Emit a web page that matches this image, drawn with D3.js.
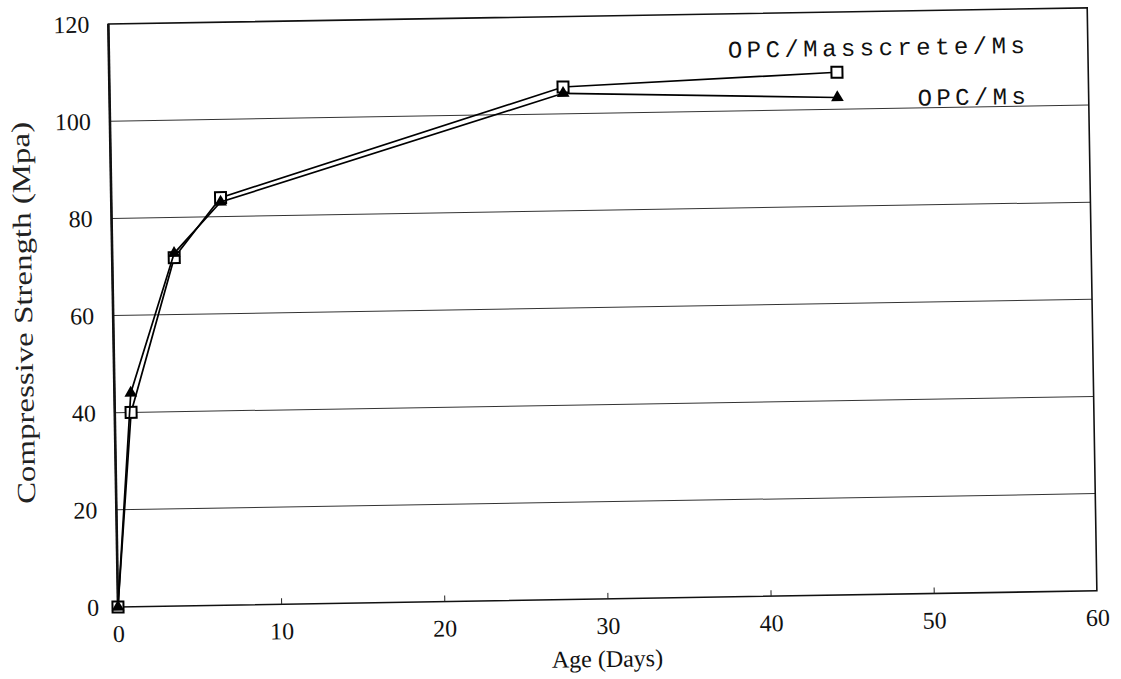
<!DOCTYPE html>
<html>
<head>
<meta charset="utf-8">
<script src="https://cdn.jsdelivr.net/npm/d3@7"></script>
<style>
  html, body { margin: 0; padding: 0; background: #fff; }
  svg { display: block; }
</style>
</head>
<body>
<div id="chart"></div>
<script>
// values
const ages = [0, 1, 3.8, 6.7, 27.8, 44.6];
const masscrete = [0, 40, 71.7, 83.9, 105.5, 107.6];
const opcMs = [0, 44, 72.6, 83, 104.2, 102.4];
const xTicks = [0, 10, 20, 30, 40, 50, 60];
const yTicks = [0, 20, 40, 60, 80, 100, 120];
const gridLines = [20, 40, 60, 80, 100];

const width = 1121, height = 679;
const margin = { top: 24, right: 24, bottom: 72, left: 118 };

const x = d3.scaleLinear().domain([0, 60]).range([margin.left, width - margin.right]);
const y = d3.scaleLinear().domain([0, 120]).range([height - margin.bottom, margin.top]);

const svg = d3.select("#chart").append("svg")
    .attr("width", width)
    .attr("height", height)
    .attr("viewBox", [0, 0, width, height]);

svg.append("rect").attr("width", width).attr("height", height).attr("fill", "#fff");

// the scan is slightly tilted
const g = svg.append("g")
    .attr("transform", `rotate(-0.95, ${x(0)}, ${y(0)})`);

// grid lines
g.append("g")
    .selectAll("line")
    .data(gridLines)
    .join("line")
    .attr("x1", x(0))
    .attr("x2", x(60))
    .attr("y1", d => y(d))
    .attr("y2", d => y(d))
    .attr("stroke", "#333")
    .attr("stroke-width", 1);

// frame
g.append("rect")
    .attr("x", x(0))
    .attr("y", y(120))
    .attr("width", x(60) - x(0))
    .attr("height", y(0) - y(120))
    .attr("fill", "none")
    .attr("stroke", "#111")
    .attr("stroke-width", 1.6);
g.append("line") // heavier left axis
    .attr("x1", x(0)).attr("x2", x(0))
    .attr("y1", y(120)).attr("y2", y(0))
    .attr("stroke", "#111").attr("stroke-width", 2.6);

const xAxis = gg => gg
    .attr("transform", `translate(0, ${y(0)})`)
    .call(d3.axisBottom(x).tickValues(xTicks).tickSize(-6).tickPadding(18))
    .call(gg => gg.select(".domain").remove())
    .call(gg => gg.selectAll(".tick line").attr("stroke", "#222").attr("opacity", d => (d === 0 || d === 60) ? 0 : 1));

const yAxis = gg => gg
    .attr("transform", `translate(${x(0)}, 0)`)
    .call(d3.axisLeft(y).tickValues(yTicks).tickSize(0).tickPadding(19))
    .call(gg => gg.select(".domain").remove());

g.append("g").call(xAxis)
    .attr("font-family", "Liberation Serif, serif")
    .attr("font-size", 24)
    .selectAll("text").attr("fill", "#111");

g.append("g").call(yAxis)
    .attr("font-family", "Liberation Serif, serif")
    .attr("font-size", 24)
    .selectAll("text").attr("fill", "#111");

// axis titles
g.append("text")
    .attr("x", (x(0) + x(60)) / 2 - 1)
    .attr("y", y(0) + 68)
    .attr("text-anchor", "middle")
    .attr("font-family", "Liberation Serif, serif")
    .attr("font-size", 24)
    .attr("fill", "#111")
    .text("Age (Days)");

g.append("text")
    .attr("transform", `translate(37, ${y(60) - 4}) rotate(-90)`)
    .attr("text-anchor", "middle")
    .attr("font-family", "Liberation Serif, serif")
    .attr("font-size", 26)
    .attr("textLength", 382)
    .attr("lengthAdjust", "spacingAndGlyphs")
    .attr("fill", "#222")
    .text("Compressive Strength (Mpa)");

// series
const series = [
    { name: "OPC/Masscrete/Ms", values: masscrete, marker: "square" },
    { name: "OPC/Ms", values: opcMs, marker: "triangle" }
];

const line = d3.line()
    .x(d => x(d[0]))
    .y(d => y(d[1]));

series.forEach(s => {
    const pts = ages.map((a, i) => [a, s.values[i]]);
    g.append("path")
        .datum(pts)
        .attr("fill", "none")
        .attr("stroke", "#000")
        .attr("stroke-width", 1.7)
        .attr("d", line);

    if (s.marker === "square") {
        g.append("g")
            .selectAll("rect")
            .data(pts)
            .join("rect")
            .attr("x", d => x(d[0]) - 5.5)
            .attr("y", d => y(d[1]) - 5.5)
            .attr("width", 11)
            .attr("height", 11)
            .attr("fill", "#fff")
            .attr("stroke", "#000")
            .attr("stroke-width", 2);
    } else {
        g.append("g")
            .selectAll("path")
            .data(pts)
            .join("path")
            .attr("transform", d => `translate(${x(d[0])}, ${y(d[1])})`)
            .attr("d", d3.symbol(d3.symbolTriangle, 70))
            .attr("fill", "#000");
    }
});

// series labels
g.append("text")
    .attr("x", 1034)
    .attr("y", 68)
    .attr("text-anchor", "end")
    .attr("font-family", "Liberation Mono, Courier New, monospace")
    .attr("font-size", 24)
    .attr("textLength", 297)
    .attr("lengthAdjust", "spacing")
    .attr("fill", "#111")
    .text("OPC/Masscrete/Ms");

g.append("text")
    .attr("x", 1034)
    .attr("y", 119)
    .attr("text-anchor", "end")
    .attr("font-family", "Liberation Mono, Courier New, monospace")
    .attr("font-size", 24)
    .attr("textLength", 108)
    .attr("lengthAdjust", "spacing")
    .attr("fill", "#111")
    .text("OPC/Ms");
</script>
</body>
</html>
